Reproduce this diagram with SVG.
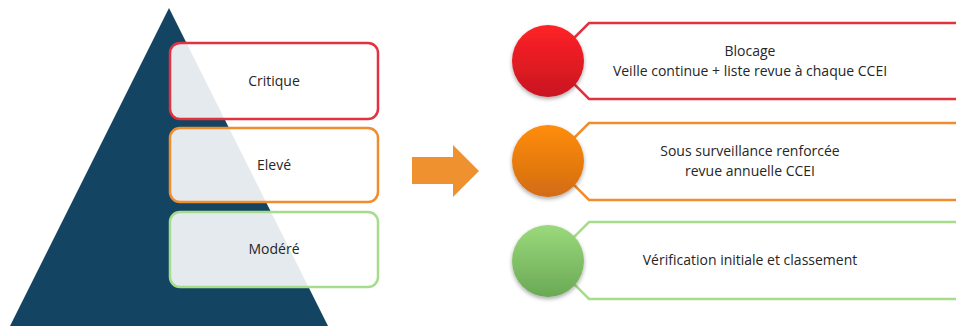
<svg xmlns="http://www.w3.org/2000/svg" width="956" height="326" viewBox="0 0 956 326">
<style>
  .lbl{font-family:"Open Sans","Liberation Sans",Arial,sans-serif;font-size:14px;fill:#262626;text-anchor:middle}
  .lbox{fill:#ffffff;fill-opacity:0.89;stroke-width:2.5}
  .rbox{fill:#ffffff;stroke-width:2.5}
  .red{stroke:#e2323f}
  .org{stroke:#f08d2c}
  .grn{stroke:#a6dd8c}
</style>
<defs>
  <linearGradient id="gRed" x1="0" y1="0" x2="0" y2="1">
    <stop offset="0" stop-color="#ff2227"/>
    <stop offset="1" stop-color="#c8161f"/>
  </linearGradient>
  <linearGradient id="gOrg" x1="0" y1="0" x2="0" y2="1">
    <stop offset="0" stop-color="#ff8d0e"/>
    <stop offset="1" stop-color="#d26c12"/>
  </linearGradient>
  <linearGradient id="gGrn" x1="0" y1="0" x2="0" y2="1">
    <stop offset="0" stop-color="#9bd97c"/>
    <stop offset="1" stop-color="#6aa955"/>
  </linearGradient>
  <filter id="sh" x="-30%" y="-30%" width="160%" height="170%">
    <feGaussianBlur in="SourceAlpha" stdDeviation="2"/>
    <feOffset dy="2" result="b"/>
    <feComponentTransfer><feFuncA type="linear" slope="0.35"/></feComponentTransfer>
    <feMerge><feMergeNode/><feMergeNode in="SourceGraphic"/></feMerge>
  </filter>
</defs>
<rect width="956" height="326" fill="#ffffff"/>
<polygon id="pyramid" points="169,8 10,326 328,326" fill="#134562"/>

<g id="critique">
  <rect class="lbox red" x="170" y="43" width="208" height="76" rx="10"/>
  <text class="lbl" x="274" y="86">Critique</text>
</g>
<g id="eleve">
  <rect class="lbox org" x="170" y="128" width="208" height="74" rx="10"/>
  <text class="lbl" x="274" y="170">Elevé</text>
</g>
<g id="modere">
  <rect class="lbox grn" x="170" y="212" width="208" height="75" rx="10"/>
  <text class="lbl" x="274" y="254">Modéré</text>
</g>

<g id="connectors">
  <polygon points="412,157 453,157 453,145 479,171 453,197 453,184 412,184" fill="#f0912f"/>
</g>

<g id="blocage">
  <polygon class="rbox red" points="560,52 589,23 960,23 960,99 589,99 560,70"/>
  <circle cx="548" cy="61" r="36" fill="url(#gRed)" filter="url(#sh)"/>
  <text class="lbl" x="750" y="56">Blocage</text>
  <text class="lbl" x="750" y="76">Veille continue + liste revue à chaque CCEI</text>
</g>
<g id="surveillance">
  <polygon class="rbox org" points="560,152 589,123 960,123 960,200 589,200 560,171"/>
  <circle cx="548" cy="161" r="36" fill="url(#gOrg)" filter="url(#sh)"/>
  <text class="lbl" x="750" y="156">Sous surveillance renforcée</text>
  <text class="lbl" x="750" y="176">revue annuelle CCEI</text>
</g>
<g id="verification">
  <polygon class="rbox grn" points="560,251 589,222 960,222 960,299 589,299 560,270"/>
  <circle cx="548" cy="261" r="36" fill="url(#gGrn)" filter="url(#sh)"/>
  <text class="lbl" x="750" y="265">Vérification initiale et classement</text>
</g>
</svg>
